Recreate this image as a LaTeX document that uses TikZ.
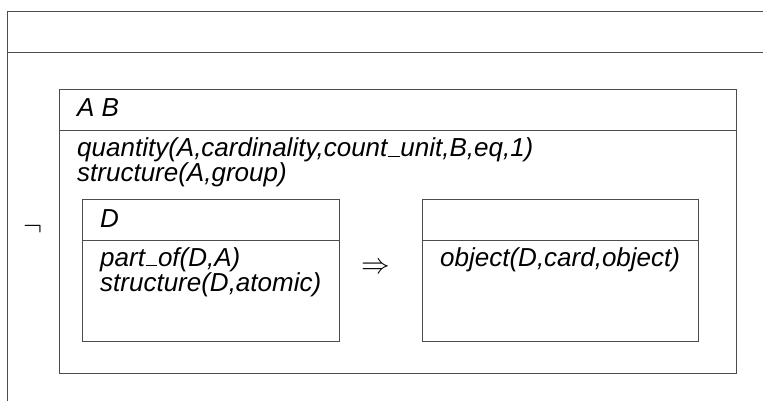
\documentclass[tikz,border=0pt]{standalone}
\usepackage{fontspec}
\setmainfont{Liberation Sans}
\usepackage{tikz}
\usetikzlibrary{positioning}

\newcommand{\drsfont}{\fontsize{26}{25}\selectfont\itshape}
\newcommand{\us}{\kern0.02em\rule{0.46em}{1.3pt}\kern0.02em}
\newcommand{\bigop}[1]{\scalebox{1.15}{\Huge$#1$}}

\tikzset{
  drsbox/.style={draw=black!70, line width=0.9pt, anchor=north west, inner sep=0pt},
  drsline/.style={draw=black!70, line width=0.9pt},
  cond/.style={anchor=base west, inner sep=0pt, font=\drsfont},
  oper/.style={inner sep=0pt}
}

\begin{document}
\begin{tikzpicture}[x=1pt,y=-1pt]
  \clip (0,0) rectangle (763,401);
  \fill[white] (0,0) rectangle (763,401);

  % outer box, runs off the page
  \node[drsbox, minimum width=820, minimum height=460] (outer) at (7,11) {};
  \draw[drsline] ([yshift=-41pt]outer.north west) -- ([yshift=-41pt]outer.north east);
  \node[oper] (neg) at (33.5,229) {\bigop{\neg}};

  % box with A B
  \node[drsbox, minimum width=677, minimum height=284] (ab) at (59,89) {};
  \draw[drsline] ([yshift=-41pt]ab.north west) -- ([yshift=-41pt]ab.north east);
  \node[cond] (abref) at (77,117) {A B};
  \node[cond] (quant) at (77,157) {quantity(A,cardinality,count\us unit,B,eq,1)};
  \node[cond] (strA) at (77,182) {structure(A,group)};

  % antecedent
  \node[drsbox, minimum width=257, minimum height=142] (ante) at (82,199) {};
  \draw[drsline] ([yshift=-41pt]ante.north west) -- ([yshift=-41pt]ante.north east);
  \node[cond] (dref) at (100,227) {D};
  \node[cond] (part) at (100,266) {part\us of(D,A)};
  \node[cond] (strD) at (100,291) {structure(D,atomic)};

  \node[oper] (impl) at (376,268) {\bigop{\Rightarrow}};

  % consequent
  \node[drsbox, minimum width=276, minimum height=142] (cons) at (422,199) {};
  \draw[drsline] ([yshift=-41pt]cons.north west) -- ([yshift=-41pt]cons.north east);
  \node[cond] (obj) at (440,266) {object(D,card,object)};
\end{tikzpicture}
\end{document}
